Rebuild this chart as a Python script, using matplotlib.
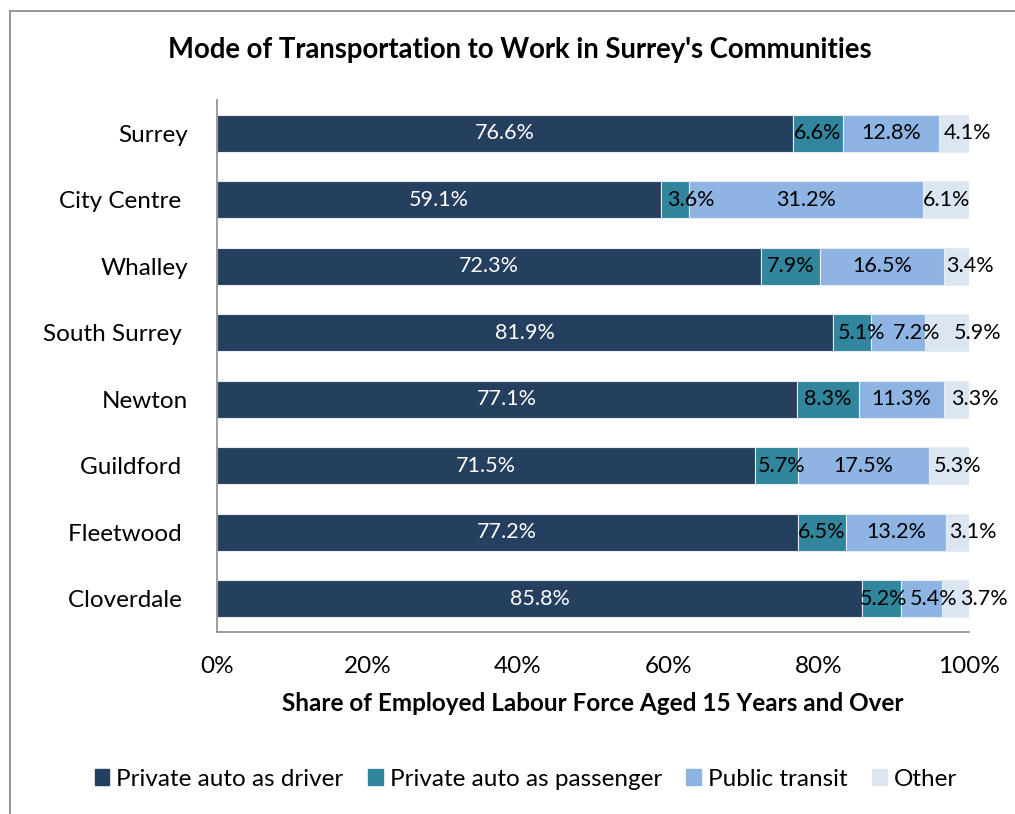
import numpy as np
import matplotlib
matplotlib.use("Agg")
import matplotlib.pyplot as plt
from matplotlib.lines import Line2D

plt.rcParams['font.family'] = ['Lato', 'DejaVu Sans']

communities = ["Surrey", "City Centre ", "Whalley", "South Surrey ", "Newton",
               "Guildford ", "Fleetwood ", "Cloverdale "]
driver = [76.6, 59.1, 72.3, 81.9, 77.1, 71.5, 77.2, 85.8]
passenger = [6.6, 3.6, 7.9, 5.1, 8.3, 5.7, 6.5, 5.2]
transit = [12.8, 31.2, 16.5, 7.2, 11.3, 17.5, 13.2, 5.4]
other = [4.1, 6.1, 3.4, 5.9, 3.3, 5.3, 3.1, 3.7]
series_names = ["Private auto as driver", "Private auto as passenger",
                "Public transit", "Other"]
colors = ["#253f5f", "#31859c", "#8eb4e3", "#dce6f2"]
label_colors = ["white", "black", "black", "black"]

# small sideways shifts Excel applied to crowded labels (in % points)
passenger_nudge = [0, 2.1, 0, 1.3, 0, 0.7, 0, 0.3]
transit_nudge = [0, 0, 0, 2.5, 0, 0, 0, 1.6]
other_nudge = [1.7, 0.0, 1.7, 4.0, 2.4, 1.1, 2.0, 3.7]

fig = plt.figure(figsize=(10.15, 8.14), dpi=100)
ax = fig.add_axes([217/1015, 1-632/814, 752/1015, 532/814])

y = np.arange(len(communities))
data = [driver, passenger, transit, other]
nudges = [[0]*8, passenger_nudge, transit_nudge, other_nudge]
left = np.zeros(len(communities))
for vals, col, lc, name, nd in zip(data, colors, label_colors, series_names, nudges):
    vals = np.array(vals)
    ax.barh(y, vals, left=left, height=0.56, color=col, edgecolor="#e6ecf4",
            linewidth=0.8, label=name)
    for i, v in enumerate(vals):
        ax.text(left[i] + v/2 + nd[i], y[i], f"{v:.1f}%", ha="center", va="center",
                fontsize=15.5, color=lc)
    left += vals

ax.set_ylim(len(communities) - 0.5, -0.5)
ax.set_xlim(0, 100)
ax.set_yticks(y)
ax.set_yticklabels(communities, fontsize=17.5)
ax.set_xticks(np.arange(0, 101, 20))
ax.set_xticklabels([f"{t}%" for t in range(0, 101, 20)], fontsize=17.5)
ax.tick_params(axis="both", length=0)
ax.tick_params(axis="y", pad=21)
ax.tick_params(axis="x", pad=17)
for s in ["top", "right"]:
    ax.spines[s].set_visible(False)
for s in ["left", "bottom"]:
    ax.spines[s].set_color("#8c8c8c")
    ax.spines[s].set_linewidth(1.2)

ax.set_xlabel("Share of Employed Labour Force Aged 15 Years and Over",
              fontsize=17.5, fontweight="bold", labelpad=11)
fig.text(520/1015, 1-50/814, "Mode of Transportation to Work in Surrey's Communities",
         ha="center", va="center", fontsize=19.8, fontweight="bold")

handles = [plt.Rectangle((0, 0), 1, 1, color=c) for c in colors]
fig.legend(handles, series_names, loc="center", bbox_to_anchor=(526/1015, 1-779/814),
           ncol=4, frameon=False, fontsize=17.5, handlelength=0.6, handleheight=0.6,
           handletextpad=0.3, columnspacing=1.0)

# chart area frame (cropped at right and bottom)
fig.add_artist(Line2D([10/1015, 10/1015], [0, 1-11/814], color="#8c8c8c", lw=1.3))
fig.add_artist(Line2D([10/1015, 1], [1-11/814, 1-11/814], color="#8c8c8c", lw=1.3))

fig.savefig("out.png", dpi=100)
